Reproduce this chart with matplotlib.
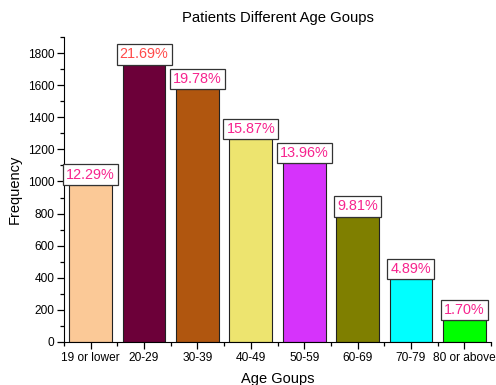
import matplotlib.pyplot as plt
from matplotlib.ticker import MultipleLocator

age_groups = ['19 or lower', '20-29', '30-39', '40-49', '50-59', '60-69', '70-79', '80 or above']
counts = [979, 1728, 1576, 1264, 1112, 781, 390, 135]
percents = ['12.29%', '21.69%', '19.78%', '15.87%', '13.96%', '9.81%', '4.89%', '1.70%']
bar_colors = ['#FBC997', '#6C0039', '#B0560F', '#EDE46F', '#D633FB', '#7F7F00', '#00FFFF', '#00FF00']
label_colors = ['#F7248E', '#FF4A4A', '#F7248E', '#F7248E', '#F7248E', '#F7248E', '#F7248E', '#F7248E']

plt.rcParams['font.family'] = ['Liberation Sans', 'DejaVu Sans']

fig = plt.figure(figsize=(4.96, 3.85), dpi=100)
ax = fig.add_axes([64/496, 43/385, 427/496, 305/385])

x = range(len(age_groups))
bars = ax.bar(x, counts, width=0.8, color=bar_colors, edgecolor='#222222', linewidth=0.8)

# percentage boxes sitting on top of each bar
fs = 10.4
pad = 0.22
for bar, pct, c in zip(bars, percents, label_colors):
    ax.annotate(pct, (bar.get_x() + bar.get_width() / 2, bar.get_height()),
                xytext=(0, pad * fs), textcoords='offset points', ha='center', va='bottom',
                fontsize=fs, color=c,
                bbox=dict(boxstyle=f'square,pad={pad}', facecolor='white', edgecolor='#333333', linewidth=0.9))

ax.set_xlim(-0.5, 7.5)
ax.set_ylim(0, 1900)
ax.set_xticks(list(x))
ax.set_xticklabels(age_groups, fontsize=8.6)
ax.set_xticks([i + 0.5 for i in range(-1, 8)], minor=True)
ax.yaxis.set_major_locator(MultipleLocator(200))
ax.yaxis.set_minor_locator(MultipleLocator(100))
ax.tick_params(axis='both', which='major', direction='out', length=5, width=0.9, labelsize=8.6, pad=2)
ax.tick_params(axis='both', which='minor', direction='out', length=3, width=0.9)

ax.spines['top'].set_visible(False)
ax.spines['right'].set_visible(False)

ax.set_xlabel('Age Goups', fontsize=10.5, labelpad=6)
ax.set_ylabel('Frequency', fontsize=10.5, labelpad=4)
ax.set_title('Patients Different Age Goups', fontsize=10.7, pad=11)

fig.savefig('out.png', dpi=100)
